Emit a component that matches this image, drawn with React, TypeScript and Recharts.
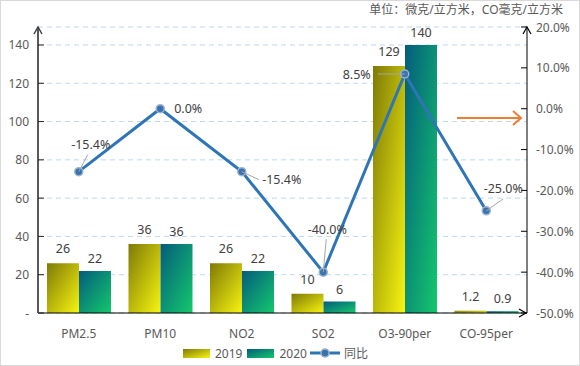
import React from 'react';
import { ComposedChart, Bar, Line, XAxis, YAxis, CartesianGrid, LabelList } from 'recharts';

const categories = ['PM2.5', 'PM10', 'NO2', 'SO2', 'O3-90per', 'CO-95per'];
const values2019 = [26, 36, 26, 10, 129, 1.2];
const values2020 = [22, 36, 22, 6, 140, 0.9];
const yoyChange = [-15.4, 0, -15.4, -40, 8.5, -25];

const leftTicks = [0, 20, 40, 60, 80, 100, 120, 140];
const rightTicks = [-50, -40, -30, -20, -10, 0, 10, 20];

// label placement around each line point: text centre (dx, dy), leader end (lx, ly)
const lineLabelOffsets = [
  { dx: 12, dy: -27, lx: 9, ly: -17 },
  { dx: 28, dy: 0, lx: 0, ly: 0 },
  { dx: 40, dy: 8, lx: 17, ly: 8 },
  { dx: 4, dy: -43, lx: 3, ly: -33 },
  { dx: -48, dy: 1, lx: -27, ly: 0 },
  { dx: 17, dy: -22, lx: 17, ly: -12 },
];

const data = categories.map((name, i) => ({
  name,
  y2019: values2019[i],
  y2020: values2020[i],
  yoy: yoyChange[i],
}));

const FONT = '"Noto Sans", "Noto Sans CJK SC", sans-serif';
const TEXT = '#404040';
const AXIS_TEXT = '#595959';

const LeftTick = (props: any) => {
  const { x, y, payload } = props;
  return (
    <g>
      <line x1={x} x2={x + 6} y1={y} y2={y} stroke="#262626" strokeWidth={1} />
      <text x={x - 9} y={y} textAnchor="end" dominantBaseline="central" fill={AXIS_TEXT} fontSize={12} fontFamily={FONT}>
        {payload.value === 0 ? '-' : payload.value}
      </text>
    </g>
  );
};

const RightTick = (props: any) => {
  const { x, y, payload } = props;
  return (
    <g>
      <line x1={x - 6} x2={x} y1={y} y2={y} stroke="#000" strokeWidth={1} />
      <text x={x + 9} y={y} textAnchor="start" dominantBaseline="central" fill={AXIS_TEXT} fontSize={12} fontFamily={FONT}>
        {`${Number(payload.value).toFixed(1)}%`}
      </text>
    </g>
  );
};

const renderLineLabel = (props: any) => {
  const { x, y, value, index } = props;
  const o = lineLabelOffsets[index];
  return (
    <g>
      {(o.lx !== 0 || o.ly !== 0) && (
        <line x1={x} y1={y} x2={x + o.lx} y2={y + o.ly} stroke="#a6a6a6" strokeWidth={1} />
      )}
      <text x={x + o.dx} y={y + o.dy} textAnchor="middle" dominantBaseline="central" fill={TEXT} fontSize={12.5} fontFamily={FONT}>
        {`${Number(value).toFixed(1)}%`}
      </text>
    </g>
  );
};

const Swatch = ({ bg }: { bg: string }) => (
  <span style={{ display: 'inline-block', width: 27, height: 9, background: bg, marginRight: 5 }} />
);

const App: React.FC = () => {
  return (
    <div style={{ position: 'absolute', left: 0, top: 0, width: 580, height: 366, background: '#fff', fontFamily: FONT }}>
      <ComposedChart
        width={580}
        height={366}
        data={data}
        margin={{ top: 27, right: 0, bottom: 0, left: 0 }}
        barGap={0}
        barCategoryGap={9}
      >
        <defs>
          <linearGradient id="g2019" x1="0" y1="0" x2="1" y2="1">
            <stop offset="0%" stopColor="#7f7a06" />
            <stop offset="100%" stopColor="#f7f510" />
          </linearGradient>
          <linearGradient id="g2020" x1="0" y1="0" x2="1" y2="1">
            <stop offset="0%" stopColor="#045c7c" />
            <stop offset="100%" stopColor="#14c86c" />
          </linearGradient>
        </defs>
        <CartesianGrid yAxisId="left" vertical={false} stroke="#bdd7ee" strokeDasharray="5 4" />
        <XAxis
          dataKey="name"
          height={53}
          axisLine={{ stroke: '#000', strokeWidth: 1 }}
          tickLine={false}
          tickSize={0}
          tickMargin={16}
          tick={{ fill: AXIS_TEXT, fontSize: 12, fontFamily: FONT }}
          interval={0}
        />
        <YAxis
          yAxisId="left"
          width={38}
          domain={[0, 149.4]}
          ticks={leftTicks}
          tickSize={0}
          tickMargin={0}
          tickLine={false}
          axisLine={{ stroke: '#595959', strokeWidth: 2 }}
          tick={<LeftTick />}
          allowDataOverflow
        />
        <YAxis
          yAxisId="right"
          orientation="right"
          width={53}
          domain={[-50, 20]}
          ticks={rightTicks}
          tickSize={0}
          tickMargin={0}
          tickLine={false}
          axisLine={{ stroke: '#000', strokeWidth: 1 }}
          tick={<RightTick />}
        />
        <Bar yAxisId="left" dataKey="y2019" fill="url(#g2019)" isAnimationActive={false}>
          <LabelList dataKey="y2019" position="top" offset={10} fill={TEXT} fontSize={12.5} fontFamily={FONT} />
        </Bar>
        <Bar yAxisId="left" dataKey="y2020" fill="url(#g2020)" isAnimationActive={false}>
          <LabelList dataKey="y2020" position="top" offset={8} fill={TEXT} fontSize={12.5} fontFamily={FONT} />
        </Bar>
        <Line
          yAxisId="right"
          dataKey="yoy"
          type="linear"
          stroke="#2e75b6"
          strokeWidth={3}
          dot={{ r: 4, fill: '#3a72b0', stroke: '#9bb3d0', strokeWidth: 1.5 }}
          isAnimationActive={false}
        >
          <LabelList dataKey="yoy" content={renderLineLabel} />
        </Line>
      </ComposedChart>

      {/* axis arrowheads and annotation arrow */}
      <svg width={580} height={366} style={{ position: 'absolute', left: 0, top: 0, pointerEvents: 'none' }}>
        <polyline points="34,34 38,27 42,34" fill="none" stroke="#404040" strokeWidth={1.5} />
        <polyline points="523,34 527,27 531,34" fill="none" stroke="#000" strokeWidth={1.2} />
        <polyline points="519,309 526,313 519,317" fill="none" stroke="#000" strokeWidth={1.2} />
        <line x1={457} y1={118} x2={521} y2={118} stroke="#ed7d31" strokeWidth={2} />
        <polyline points="513,111 521,118 513,125" fill="none" stroke="#ed7d31" strokeWidth={2} />
      </svg>

      <div style={{ position: 'absolute', right: 17, top: 2, fontSize: 12, lineHeight: '15px', color: AXIS_TEXT, whiteSpace: 'nowrap' }}>
        单位：微克/立方米，CO毫克/立方米
      </div>

      <div style={{ position: 'absolute', left: 183, top: 344, fontSize: 12, color: AXIS_TEXT, display: 'flex', alignItems: 'center', whiteSpace: 'nowrap' }}>
        <Swatch bg="linear-gradient(to bottom right, #7f7a06, #f7f510)" />
        <span style={{ marginRight: 5 }}>2019</span>
        <Swatch bg="linear-gradient(to bottom right, #045c7c, #14c86c)" />
        <span>2020</span>
        <svg width={30} height={12} style={{ margin: '0 4px 0 3px' }}>
          <line x1={0} y1={6} x2={30} y2={6} stroke="#2e75b6" strokeWidth={3} />
          <circle cx={15} cy={6} r={4} fill="#3a72b0" stroke="#9bb3d0" strokeWidth={1.5} />
        </svg>
        <span>同比</span>
      </div>

      <div style={{ position: 'absolute', left: 0, top: 0, width: 580, height: 366, boxSizing: 'border-box', border: '1px solid #d9d9d9', pointerEvents: 'none' }} />
    </div>
  );
};

export default App;
